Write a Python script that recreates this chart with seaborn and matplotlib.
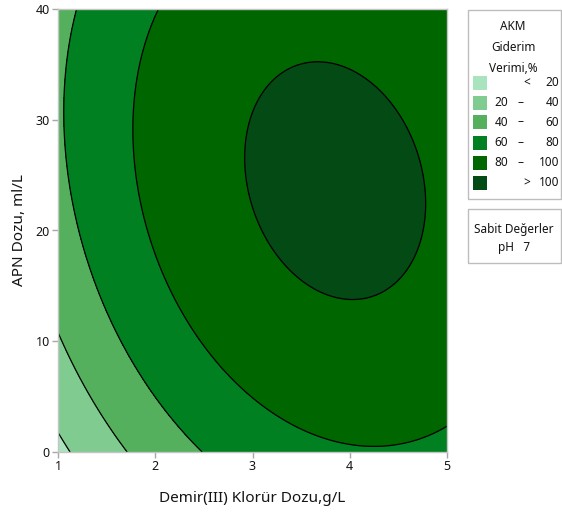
import numpy as np
import matplotlib
matplotlib.use("Agg")
import matplotlib.pyplot as plt
from matplotlib.patches import Rectangle
import seaborn as sns

# Fitted second-order response-surface model for AKM removal (%)
# z = b0 + b1*Demir + b2*APN + b11*Demir^2 + b22*APN^2 + b12*Demir*APN   (pH held at 7)
b0 = -29.87
b_demir = 51.1
b_apn = 2.98
b_demir2 = -6.0
b_apn2 = -0.0451
b_demir_apn = -0.2

demir_range = [1, 5]
apn_range = [0, 40]
x_ticks = [1, 2, 3, 4, 5]
y_ticks = [0, 10, 20, 30, 40]

levels = [20, 40, 60, 80, 100]
band_colors = ["#aae4be", "#80cc90", "#54b05c", "#008020", "#006600", "#044a14"]
band_low = ["", "20", "40", "60", "80", ""]
band_sep = ["<", "–", "–", "–", "–", ">"]
band_high = ["20", "40", "60", "80", "100", "100"]

legend_title = ["AKM", "Giderim", "Verimi,%"]
hold_title = "Sabit Değerler"
hold_value = ("pH", "7")

x_label = "Demir(III) Klorür Dozu,g/L"
y_label = "APN Dozu, ml/L"

sns.set_theme(style="white")
plt.rcParams["font.family"] = ["Noto Sans", "DejaVu Sans"]

TXT = "#141414"
W, H = 562, 515
fig = plt.figure(figsize=(W / 100, H / 100), dpi=100)


def fx(px):
    return px / W


def fy(py):
    return 1 - py / H


ax = fig.add_axes([fx(58), fy(452), (447 - 58) / W, (452 - 9) / H])

xs = np.linspace(demir_range[0], demir_range[1], 400)
ys = np.linspace(apn_range[0], apn_range[1], 400)
X, Y = np.meshgrid(xs, ys)
Z = (b0 + b_demir * X + b_apn * Y + b_demir2 * X ** 2 + b_apn2 * Y ** 2
     + b_demir_apn * X * Y)

bounds = [-1e6] + levels + [1e6]
ax.contourf(X, Y, Z, levels=bounds, colors=band_colors)
ax.contour(X, Y, Z, levels=levels, colors="black", linewidths=0.9)

ax.set_xlim(demir_range)
ax.set_ylim(apn_range)
ax.set_xticks(x_ticks)
ax.set_yticks(y_ticks)
ax.tick_params(bottom=True, left=True, direction="out", length=4, width=1,
               color="#a8a8a8", labelsize=9, labelcolor=TXT, pad=2)
for sp in ax.spines.values():
    sp.set_color("#c4c4c4")
    sp.set_linewidth(1)
ax.set_xlabel(x_label, fontsize=11, color=TXT, labelpad=13)
ax.set_ylabel(y_label, fontsize=11, color=TXT, labelpad=6)

# Legend box for the contour bands
fig.add_artist(Rectangle((fx(468), fy(199)), (561 - 468) / W, (199 - 10) / H,
                         transform=fig.transFigure, facecolor="white",
                         edgecolor="#bdbdbd", lw=1))
for i, line in enumerate(legend_title):
    fig.text(fx(513), fy(27 + 20.5 * i), line, ha="center", va="center",
             fontsize=8.5, color=TXT)
row_y = [83, 103, 122, 143, 163, 183]
for c, lo, sep, hi, py in zip(band_colors, band_low, band_sep, band_high, row_y):
    fig.add_artist(Rectangle((fx(473), fy(py + 7)), 14 / W, 14 / H,
                             transform=fig.transFigure, facecolor=c,
                             edgecolor="none"))
    if lo:
        fig.text(fx(508), fy(py), lo, ha="right", va="center",
                 fontsize=8.5, color=TXT)
    fig.text(fx(521) if sep == "–" else fx(527), fy(py), sep, ha="center",
             va="center", fontsize=8.5, color=TXT)
    fig.text(fx(559), fy(py), hi, ha="right", va="center",
             fontsize=8.5, color=TXT)

# Box listing the factor held constant
fig.add_artist(Rectangle((fx(468), fy(263)), (561 - 468) / W, (263 - 209) / H,
                         transform=fig.transFigure, facecolor="white",
                         edgecolor="#bdbdbd", lw=1))
fig.text(fx(514), fy(230), hold_title, ha="center", va="center",
         fontsize=8.5, color=TXT)
fig.text(fx(514), fy(248), f"{hold_value[0]}   {hold_value[1]}", ha="center",
         va="center", fontsize=8.5, color=TXT)

fig.savefig("out.png", dpi=100)
